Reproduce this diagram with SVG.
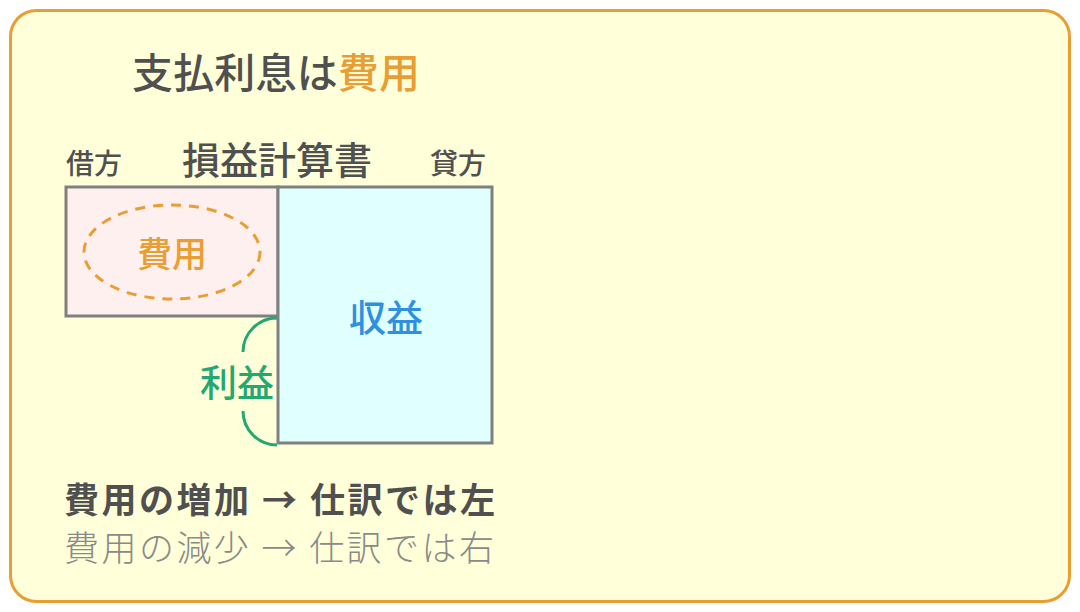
<svg xmlns="http://www.w3.org/2000/svg" width="1080" height="612" viewBox="0 0 1080 612">
<style>
text{font-family:"Noto Sans CJK JP","Noto Sans CJK SC",sans-serif;}
.dark{fill:#505050;}
.box{stroke:#808080;stroke-width:3;}
</style>
<rect x="10.5" y="10.5" width="1059" height="591" rx="26" fill="#FFFFD9" stroke="#E99E33" stroke-width="3"/>
<g id="title"><text x="132" y="88" font-size="41" class="dark" font-weight="500" textLength="288" lengthAdjust="spacing">支払利息は<tspan fill="#E99E33">費用</tspan></text></g>
<g id="header">
<text x="66" y="174" font-size="28" class="dark" font-weight="500">借方</text>
<text x="277" y="174" font-size="38" class="dark" font-weight="500" text-anchor="middle">損益計算書</text>
<text x="430" y="174" font-size="28" class="dark" font-weight="500">貸方</text>
</g>
<g id="expense">
<rect x="66" y="187" width="212" height="129" fill="#FFF0F0" class="box"/>
<ellipse cx="172" cy="252" rx="88" ry="47" fill="none" stroke="#E99E33" stroke-width="3" stroke-dasharray="10 8"/>
<text x="172" y="267" font-size="35" fill="#E99E33" text-anchor="middle" font-weight="500">費用</text>
</g>
<g id="revenue">
<rect x="278" y="187" width="214" height="256" fill="#E0FFFF" class="box"/>
<text x="386" y="332" font-size="37" fill="#2F8FE0" text-anchor="middle" font-weight="500">収益</text>
</g>
<g id="connectors">
<path d="M277 318 A34 34 0 0 0 243 352" fill="none" stroke="#22A870" stroke-width="3"/>
<path d="M243 411 A34 34 0 0 0 277 445" fill="none" stroke="#22A870" stroke-width="3"/>
</g>
<g id="profit"><text x="237" y="397" font-size="37" fill="#22A870" text-anchor="middle" font-weight="500">利益</text></g>
<g id="notes">
<text x="64" y="513" font-size="35" class="dark" font-weight="600" textLength="431" lengthAdjust="spacing">費用の増加 → 仕訳では左</text>
<text x="64" y="561" font-size="35" fill="#8A8A8A" font-weight="300" textLength="430" lengthAdjust="spacing">費用の減少 → 仕訳では右</text>
</g>
</svg>
